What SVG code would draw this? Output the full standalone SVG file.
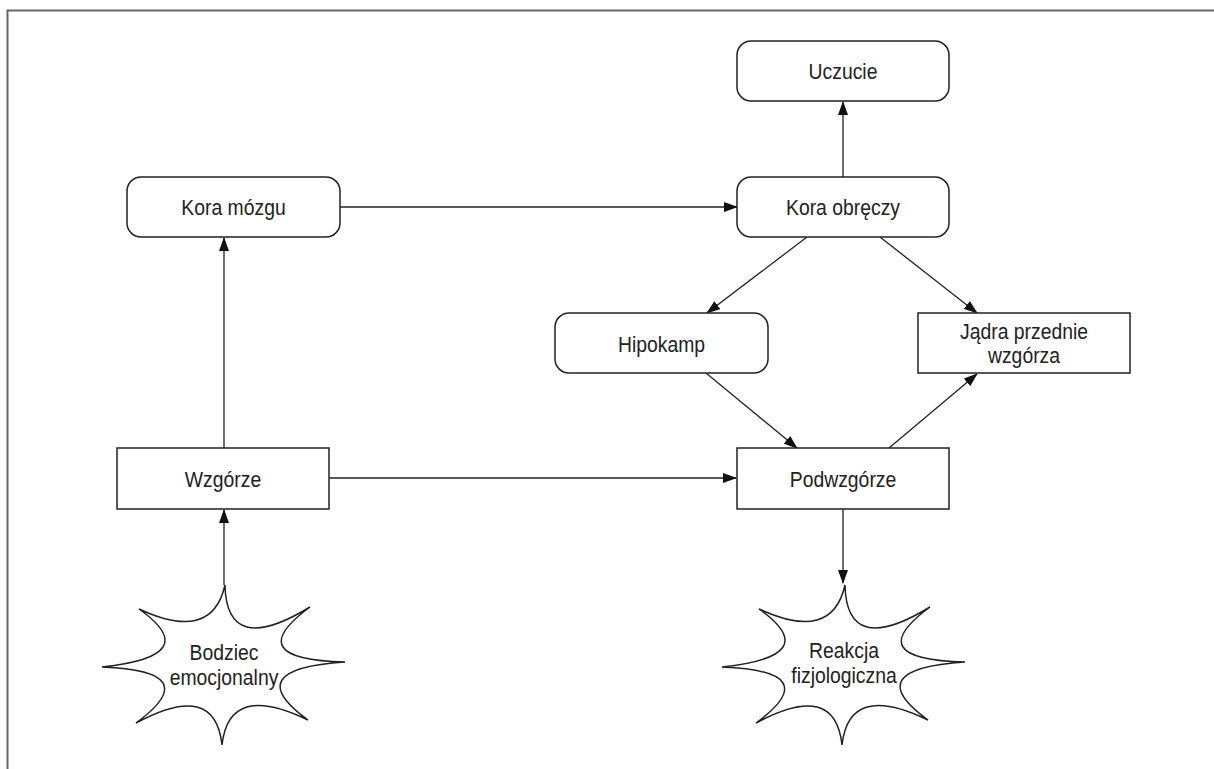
<svg xmlns="http://www.w3.org/2000/svg" width="1214" height="769" viewBox="0 0 1214 769">
<style>
.box{fill:#fff;stroke:#222;stroke-width:1.5}
.t{font-family:"Liberation Sans",Arial,sans-serif;font-size:22px;fill:#222;text-anchor:middle}
.c{stroke:#222;stroke-width:1.3;fill:none;marker-end:url(#ah)}
.star{fill:#fff;stroke:#222;stroke-width:1.5;stroke-linejoin:miter}
</style>
<defs>
<marker id="ah" markerWidth="14" markerHeight="10" refX="13" refY="5" orient="auto" markerUnits="userSpaceOnUse">
<path d="M0,0 L14,5 L0,10 Z" fill="#111"/>
</marker>
<path id="burst" d="M1,-80 Q2.5,-7 86,-58 Q14.5,-5.5 121,-3 Q13.5,4 84,55 Q5,16.5 -2,80 Q-9,15 -88,58 Q-17,6 -122,2 Q-18.5,-9 -85,-56 Q-12,-22 1,-80 Z"/>
</defs>
<rect width="1214" height="769" fill="#fff"/>
<path d="M7.5,769 V10.5 H1214" fill="none" stroke="#666" stroke-width="2"/>
<g id="connectors">
<line class="c" x1="340" y1="207" x2="737" y2="207"/>
<line class="c" x1="843" y1="177" x2="843" y2="102"/>
<line class="c" x1="807" y1="237" x2="707" y2="313"/>
<line class="c" x1="880" y1="237" x2="977" y2="313"/>
<line class="c" x1="706" y1="373" x2="797" y2="448"/>
<line class="c" x1="889" y1="448" x2="977" y2="374"/>
<line class="c" x1="329" y1="478" x2="736" y2="478"/>
<line class="c" x1="224" y1="448" x2="224" y2="238"/>
<line class="c" x1="224" y1="585" x2="224" y2="510"/>
<line class="c" x1="843" y1="509" x2="843" y2="583"/>
</g>
<g id="uczucie"><rect class="box" x="737" y="41" width="212" height="60" rx="14"/><text class="t" transform="translate(843,79) scale(0.88,1)">Uczucie</text></g>
<g id="kora-mozgu"><rect class="box" x="127" y="177" width="213" height="60" rx="14"/><text class="t" transform="translate(233.5,215) scale(0.88,1)">Kora mózgu</text></g>
<g id="kora-obreczy"><rect class="box" x="737" y="177" width="212" height="60" rx="14"/><text class="t" transform="translate(843,215) scale(0.88,1)">Kora obręczy</text></g>
<g id="hipokamp"><rect class="box" x="555" y="313" width="213" height="60" rx="14"/><text class="t" transform="translate(661.5,352) scale(0.88,1)">Hipokamp</text></g>
<g id="jadra"><rect class="box" x="918" y="313" width="212" height="60"/><text class="t" transform="translate(1024,339) scale(0.88,1)">Jądra przednie</text><text class="t" transform="translate(1024,363) scale(0.88,1)">wzgórza</text></g>
<g id="wzgorze"><rect class="box" x="117" y="448" width="212" height="61"/><text class="t" transform="translate(223,487) scale(0.88,1)">Wzgórze</text></g>
<g id="podwzgorze"><rect class="box" x="737" y="448" width="212" height="61"/><text class="t" transform="translate(843,487) scale(0.88,1)">Podwzgórze</text></g>
<g id="bodziec"><use href="#burst" class="star" transform="translate(224,665)"/><text class="t" transform="translate(224,660) scale(0.88,1)">Bodziec</text><text class="t" transform="translate(224,685) scale(0.88,1)">emocjonalny</text></g>
<g id="reakcja"><use href="#burst" class="star" transform="translate(844,665)"/><text class="t" transform="translate(844,658) scale(0.88,1)">Reakcja</text><text class="t" transform="translate(844,683) scale(0.88,1)">fizjologiczna</text></g>
</svg>
